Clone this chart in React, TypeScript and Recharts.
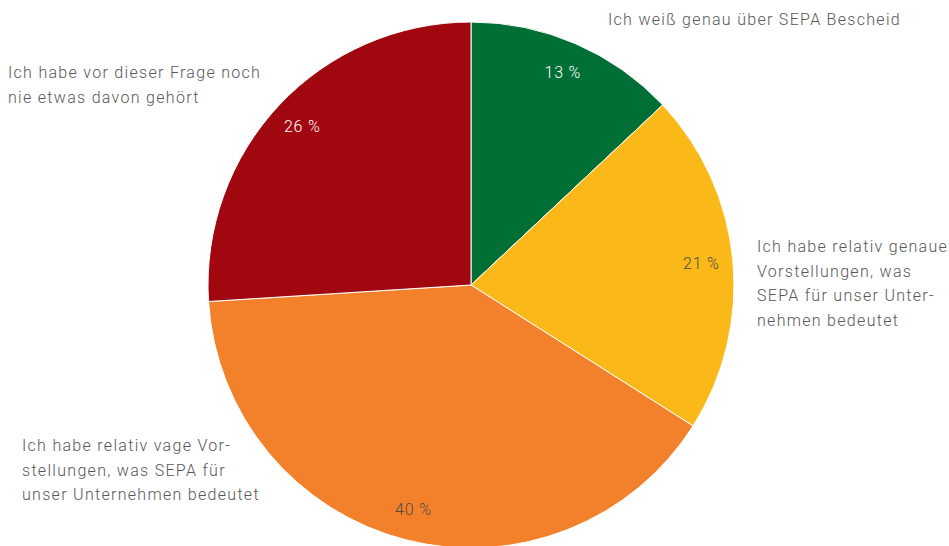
import React from 'react';
import { PieChart, Pie, Cell } from 'recharts';

const categories = [
  'Ich weiß genau über SEPA Bescheid',
  'Ich habe relativ genaue Vorstellungen, was SEPA für unser Unternehmen bedeutet',
  'Ich habe relativ vage Vorstellungen, was SEPA für unser Unternehmen bedeutet',
  'Ich habe vor dieser Frage noch nie etwas davon gehört',
];
const shares = [13, 21, 40, 26];
const sliceColors = ['#006f35', '#fbb919', '#f3812b', '#a0070f'];
const valueColors = ['#ffffff', '#4a4a4a', '#4a4a4a', '#ffffff'];

// line breaks as in the original layout
const labelLines = [
  ['Ich weiß genau über SEPA Bescheid'],
  ['Ich habe relativ genaue', 'Vorstellungen, was', 'SEPA für unser Unter-', 'nehmen bedeutet'],
  ['Ich habe relativ vage Vor-', 'stellungen, was SEPA für', 'unser Unternehmen bedeutet'],
  ['Ich habe vor dieser Frage noch', 'nie etwas davon gehört'],
];

const data = categories.map((name, i) => ({ name, value: shares[i] }));

const FONT = 'Roboto, "Noto Sans", sans-serif';
const TEXT = '#575757';

const RADIAN = Math.PI / 180;

const renderValue = (props: any) => {
  const { cx, cy, midAngle, outerRadius, index, value } = props;
  const r = outerRadius * 0.88;
  const x = cx + r * Math.cos(-midAngle * RADIAN);
  const y = cy + r * Math.sin(-midAngle * RADIAN);
  return (
    <text
      x={x}
      y={y}
      fill={valueColors[index]}
      textAnchor="middle"
      dominantBaseline="central"
      fontSize={16}
      fontFamily={FONT}
      fontWeight={300}
      letterSpacing={0.8}
    >
      {value} %
    </text>
  );
};

const boxes: React.CSSProperties[] = [
  { left: 608, top: 8 },
  { left: 757, top: 235 },
  { left: 22, top: 434 },
  { left: 8, top: 61 },
];

export default function App() {
  return (
    <div style={{ position: 'absolute', left: 0, top: 0, width: 949, height: 546, background: '#fff', overflow: 'hidden' }}>
      <PieChart width={949} height={546} margin={{ top: 0, right: 0, bottom: 0, left: 0 }}>
        <Pie
          data={data}
          dataKey="value"
          nameKey="name"
          cx={471}
          cy={285}
          outerRadius={263}
          startAngle={90}
          endAngle={-270}
          stroke="#ffffff"
          strokeWidth={1}
          label={renderValue}
          labelLine={false}
          isAnimationActive={false}
        >
          {data.map((entry, i) => (
            <Cell key={`cell-${i}`} fill={sliceColors[i]} />
          ))}
        </Pie>
      </PieChart>
      {labelLines.map((lines, i) => (
        <div
          key={i}
          style={{
            position: 'absolute',
            ...boxes[i],
            fontFamily: FONT,
            fontWeight: 300,
            fontSize: 16,
            lineHeight: '24.5px',
            color: TEXT,
            whiteSpace: 'nowrap',
            letterSpacing: 1.3,
          }}
        >
          {lines.map((l, j) => (
            <div key={j}>{l}</div>
          ))}
        </div>
      ))}
    </div>
  );
}
